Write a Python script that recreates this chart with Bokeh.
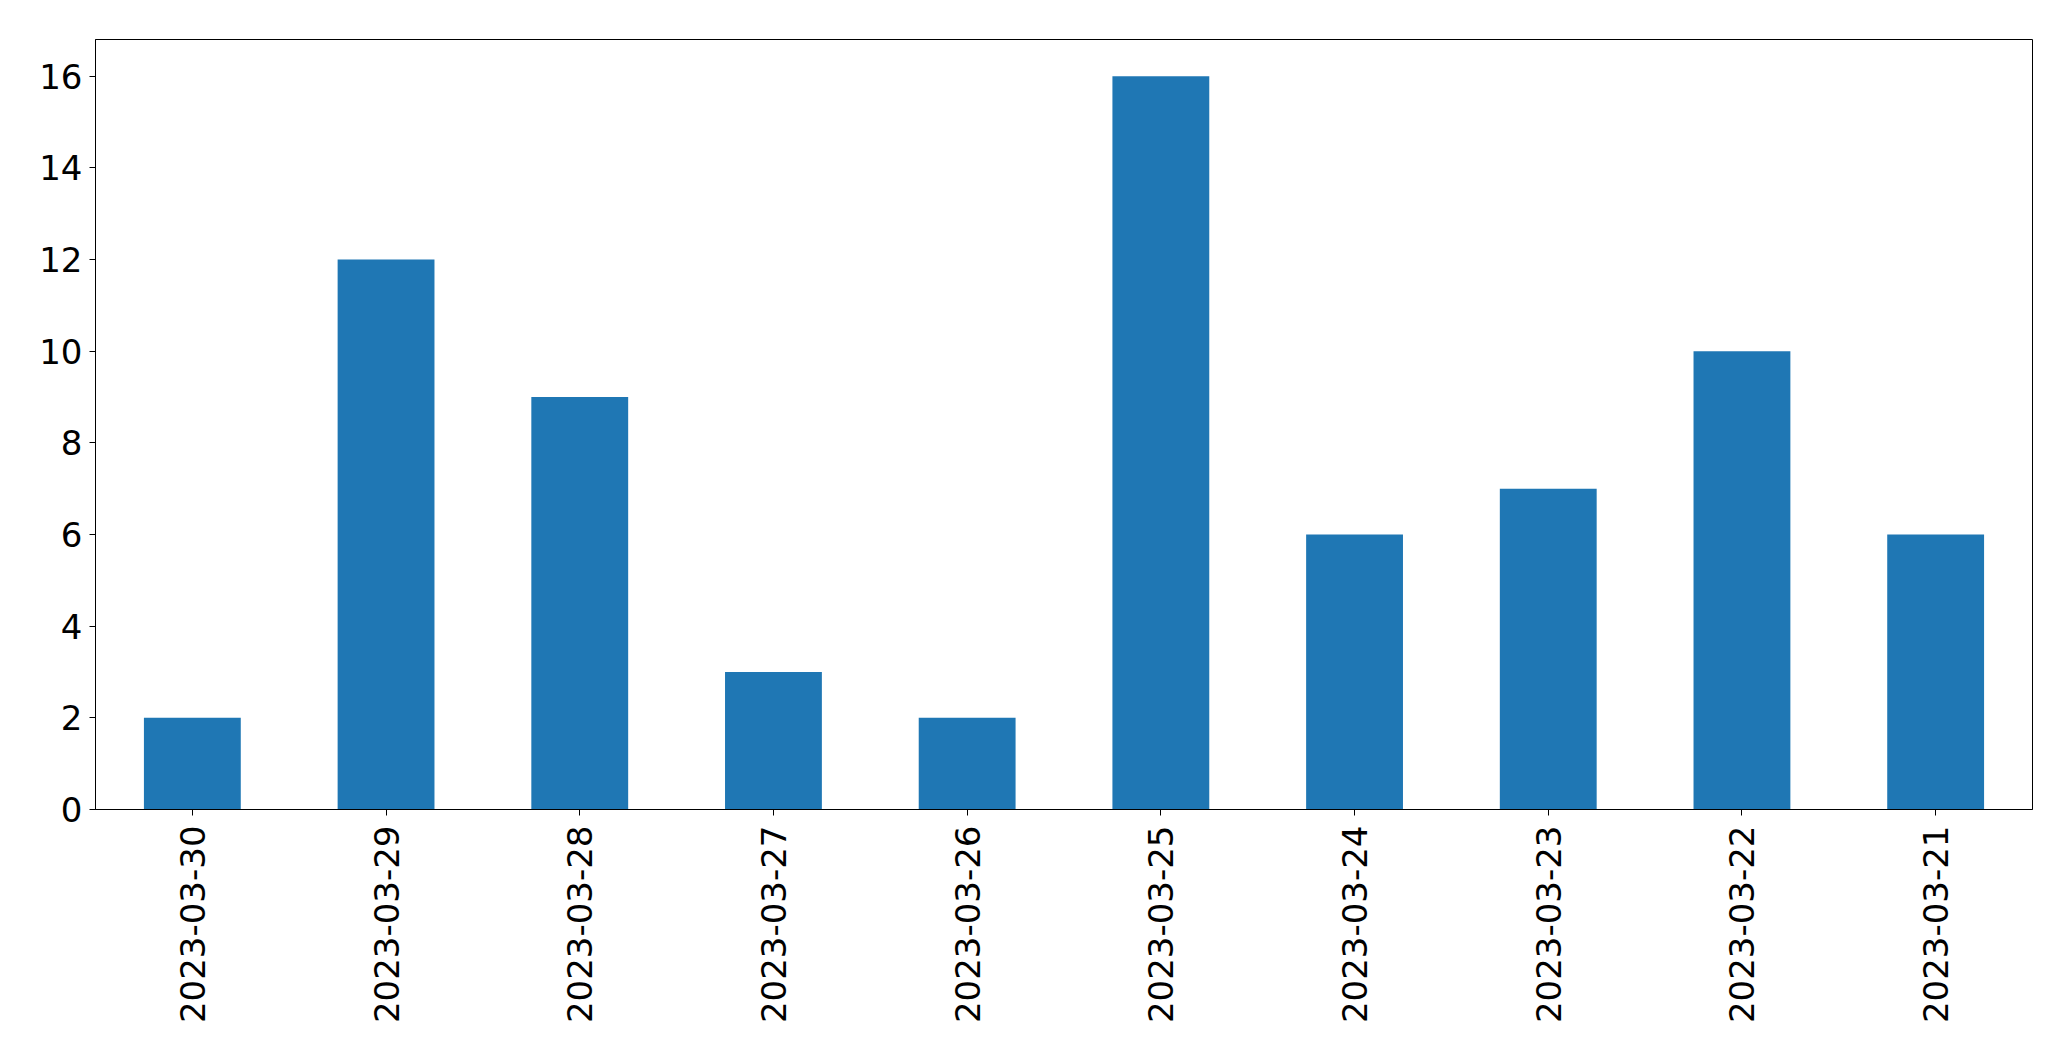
import math
from bokeh.plotting import figure
from bokeh.models import FactorRange, Range1d, FixedTicker, ColumnDataSource
from bokeh.embed import file_html
from bokeh.resources import INLINE

dates = ["2023-03-30", "2023-03-29", "2023-03-28", "2023-03-27", "2023-03-26",
         "2023-03-25", "2023-03-24", "2023-03-23", "2023-03-22", "2023-03-21"]
counts = [2, 12, 9, 3, 2, 16, 6, 7, 10, 6]
y_ticks = [0, 2, 4, 6, 8, 10, 12, 14, 16]

src = ColumnDataSource(dict(date=dates, count=counts))

p = figure(x_range=FactorRange(*dates, range_padding=0), y_range=Range1d(0, 16.8),
           width=2055, height=1045, output_backend="svg", toolbar_location=None,
           min_border_left=95, min_border_right=23, min_border_top=39, min_border_bottom=236)

p.vbar(x="date", top="count", width=0.5, source=src, fill_color="#1f77b4", line_color=None)

p.xgrid.visible = False
p.ygrid.visible = False
p.outline_line_color = "black"
p.outline_line_alpha = 1
p.outline_line_width = 1

p.yaxis.ticker = FixedTicker(ticks=y_ticks)
for ax in (p.xaxis, p.yaxis):
    ax.axis_line_color = "black"
    ax.major_tick_line_color = "black"
    ax.minor_tick_line_color = None
    ax.major_tick_out = 6
    ax.major_tick_in = 0
    ax.major_label_text_font = "DejaVu Sans"
    ax.major_label_text_font_size = "34px"
    ax.major_label_text_color = "black"
p.yaxis.major_label_standoff = 7
p.xaxis.major_label_standoff = 10
p.xaxis.major_label_orientation = math.pi / 2

open("out.html", "w").write(file_html(p, INLINE))
